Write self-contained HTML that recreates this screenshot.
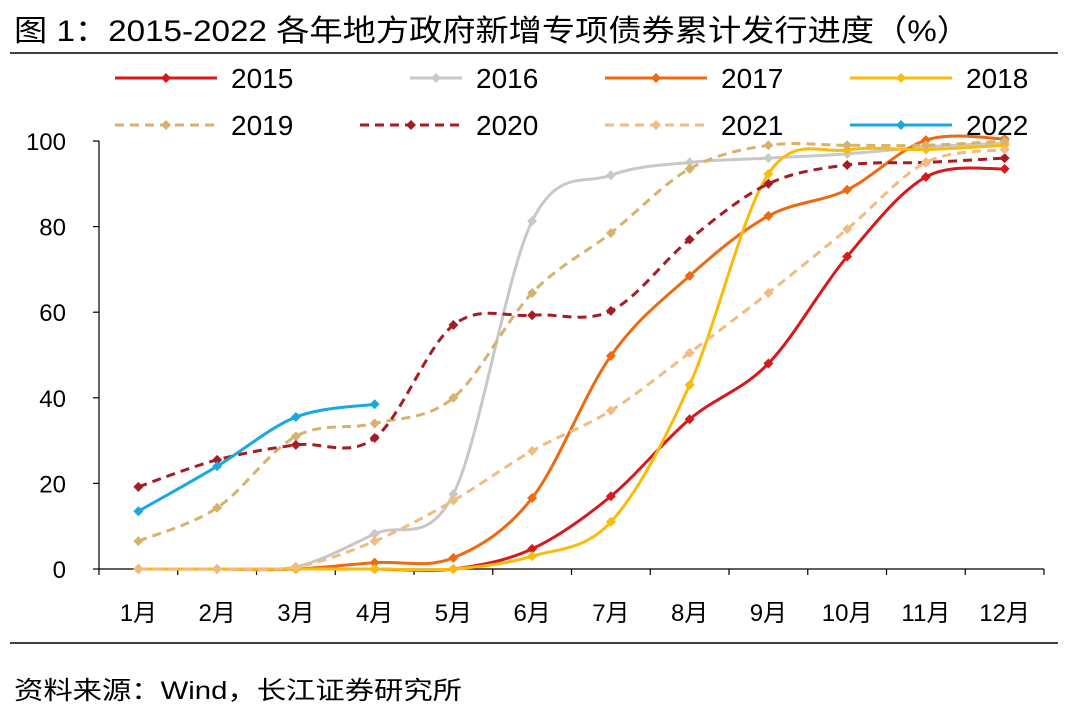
<!DOCTYPE html>
<html><head><meta charset="utf-8">
<style>
body{margin:0;background:#fff;}
svg text{font-family:"Liberation Sans","Noto Sans CJK SC",sans-serif;fill:#000;}
</style></head>
<body>
<svg id="chart" width="1069" height="714" xmlns="http://www.w3.org/2000/svg">
<text x="14" y="41" font-size="30" textLength="956" lengthAdjust="spacingAndGlyphs">图  1：2015-2022 各年地方政府新增专项债券累计发行进度（%）</text>
<line x1="10" y1="53" x2="1058" y2="53" stroke="#000" stroke-width="1.5"/>
<g id="plot"></g>
<g id="legend"></g>
<line x1="10" y1="643" x2="1058" y2="643" stroke="#000" stroke-width="1.5"/>
<text x="14" y="699" font-size="25" textLength="448" lengthAdjust="spacingAndGlyphs">资料来源：Wind，长江证券研究所</text>
</svg>
<script>
const categories=["1月","2月","3月","4月","5月","6月","7月","8月","9月","10月","11月","12月"];
const yTicks=[0,20,40,60,80,100];
const seriesNames=["2015","2016","2017","2018","2019","2020","2021","2022"];
const s2015=[0,0,0,0,0,4.7,17,35,48,73,91.6,93.5];
const s2016=[0,0,0.5,8.2,17.5,81.3,92,95,96,97,98.6,99.5];
const s2017=[0,0,0,1.5,2.6,16.6,49.8,68.5,82.5,88.6,100.2,100.5];
const s2018=[0,0,0,0,0,3,11,43,92.3,97.9,98,99];
const s2019=[6.5,14.3,31,34,40,64.5,78.5,93.5,99,99,99,100];
const s2020=[19.2,25.5,29,30.6,57,59.3,60.3,77,90,94.4,95,96];
const s2021=[0,0,0.5,6.5,16,27.6,37,50.5,64.5,79.4,95,98];
const s2022=[13.5,24,35.5,38.5];
const seriesData=[s2015,s2016,s2017,s2018,s2019,s2020,s2021,s2022];
const colors=["#d7191c","#c8c8c8","#ee6a12","#fbbb0a","#d8b26a","#a61c23","#f2bb80","#1aa8e0"];
const dashed=[false,false,false,false,true,true,true,false];

const NS="http://www.w3.org/2000/svg";
const X0=99,X1=1044,Y0=569,Y1=141;
const bw=(X1-X0)/categories.length;
const xs=i=>X0+bw*(i+0.5);
const ys=v=>Y0-(v/100)*(Y0-Y1);
const plot=document.getElementById('plot');
const legend=document.getElementById('legend');
function mk(tag,attrs,parent){const e=document.createElementNS(NS,tag);for(const k in attrs)e.setAttribute(k,attrs[k]);parent.appendChild(e);return e;}

let ya=mk('line',{x1:X0,y1:Y1,x2:X0,y2:Y0,stroke:'#000','stroke-width':1.2},plot);


yTicks.forEach(t=>{
  let tk=mk('line',{x1:X0-6,y1:ys(t),x2:X0,y2:ys(t),stroke:'#000','stroke-width':1.2},plot);
  
  
  let tx=mk('text',{x:66,y:ys(t)+9,'font-size':24,'text-anchor':'end'},plot);
  tx.textContent=t;
  
  
});
let xa=mk('line',{x1:X0,y1:Y0,x2:X1,y2:Y0,stroke:'#000','stroke-width':1.2},plot);


for(let i=0;i<=categories.length;i++){
  let tk=mk('line',{x1:X0+bw*i,y1:Y0,x2:X0+bw*i,y2:Y0+6,stroke:'#000','stroke-width':1.2},plot);
  
  
}
categories.forEach((c,i)=>{
  let tx=mk('text',{x:xs(i),y:621,'font-size':24,'text-anchor':'middle'},plot);
  tx.textContent=c;
  
  
});

function smooth(pts){
  let d=`M${pts[0][0]},${pts[0][1]}`;
  for(let i=0;i<pts.length-1;i++){
    const p0=pts[i-1]||pts[i],p1=pts[i],p2=pts[i+1],p3=pts[i+2]||p2;
    const t=1/6;
    const c1=[p1[0]+(p2[0]-p0[0])*t,p1[1]+(p2[1]-p0[1])*t];
    const c2=[p2[0]-(p3[0]-p1[0])*t,p2[1]-(p3[1]-p1[1])*t];
    d+=` C${c1[0]},${c1[1]} ${c2[0]},${c2[1]} ${p2[0]},${p2[1]}`;
  }
  return d;
}
function diamond(x,y,col,parent){
  return mk('path',{d:`M${x},${y-5} L${x+5},${y} L${x},${y+5} L${x-5},${y} Z`,fill:col},parent);
}
seriesData.forEach((arr,si)=>{
  const g=mk('g',{},plot);
  
  
  const pts=arr.map((v,i)=>[xs(i),ys(v)]);
  let p=mk('path',{d:smooth(pts),fill:'none',stroke:colors[si],'stroke-width':3,'stroke-dasharray':dashed[si]?'9 6':'none'},g);
  
  
  pts.forEach(pt=>{
    let m=diamond(pt[0],pt[1],colors[si],g);
    
    
  });
});

const legX=[115,360,605,850];
const legRowY=[78,125];
seriesNames.forEach((n,i)=>{
  const col=i%4,row=Math.floor(i/4);
  let lx=legX[col],y=legRowY[row];
  if(col===1) lx=(row===0)?410:360;
  const g=mk('g',{},legend);
  
  
  const x2=(col===1)?462:lx+102;
  mk('line',{x1:lx,y1:y,x2:x2,y2:y,stroke:colors[i],'stroke-width':3,'stroke-dasharray':dashed[i]?'9 6':'none'},g);
  diamond((lx+x2)/2,y,colors[i],g);
  let t=mk('text',{x:x2+14,y:y+10,'font-size':28},g);
  t.textContent=n;
});
</script>
</body></html>
